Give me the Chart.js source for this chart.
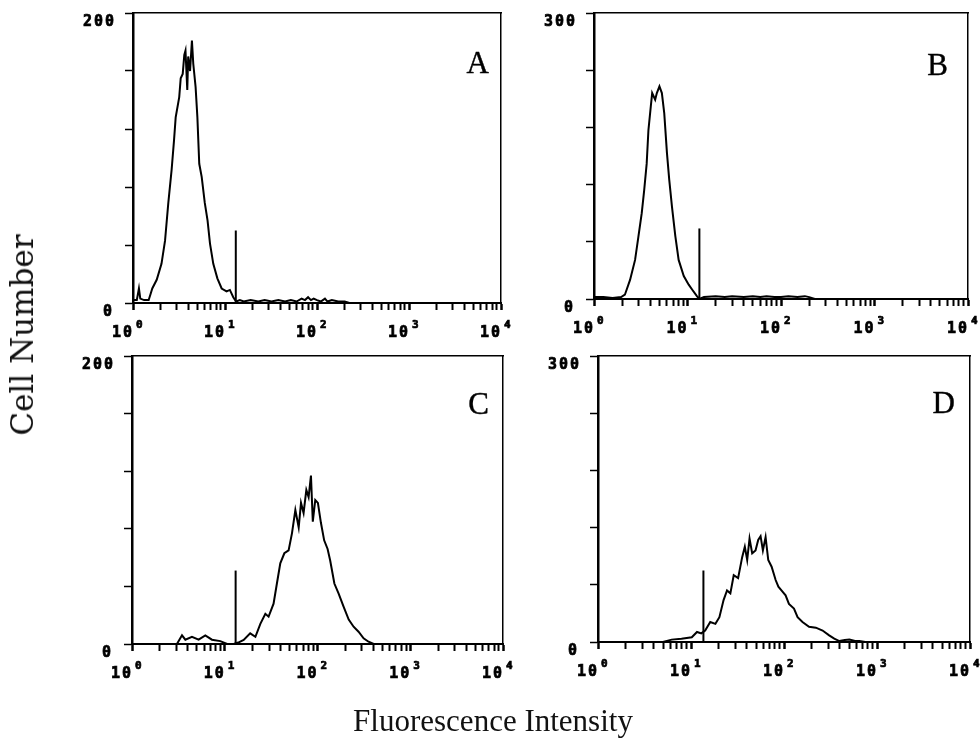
<!DOCTYPE html>
<html><head><meta charset="utf-8">
<script src="https://cdn.jsdelivr.net/npm/chart.js@4/dist/chart.umd.min.js"></script>
<style>
html,body{margin:0;padding:0;background:#fff;}
#wrap{position:relative;width:980px;height:755px;overflow:hidden;background:#fff;}
canvas{position:absolute;left:0;top:0;}
.ylab{position:absolute;left:22px;top:335px;transform:translate(-50%,-50%) rotate(-90deg);font-family:"DejaVu Serif",serif;font-size:31px;white-space:nowrap;color:#111;}
.xlab{position:absolute;left:493px;top:721px;transform:translate(-50%,-50%);font-family:"Liberation Serif",serif;font-size:31px;white-space:nowrap;color:#111;}
</style></head>
<body><div id="wrap">
<canvas id="cA" width="980" height="755"></canvas>
<canvas id="cB" width="980" height="755"></canvas>
<canvas id="cC" width="980" height="755"></canvas>
<canvas id="cD" width="980" height="755"></canvas>
<div class="ylab">Cell Number</div>
<div class="xlab">Fluorescence Intensity</div>
</div>
<script>
// ---- tick labels ----
const xTickValues = [1, 10, 100, 1000, 10000];
const xTickBase = '10';
const xTickExponents = ['0', '1', '2', '3', '4'];
const xMinorMantissas = [1, 2, 3, 4, 5, 6, 7, 8, 9];
const panelLetters = ['A', 'B', 'C', 'D'];
const yMaxValues = [200, 300, 200, 300];
const yMaxLabels = ['200', '300', '200', '300'];
const yZeroLabel = '0';

// ---- panel A ----
const aFluor = [1.00, 1.10, 1.16, 1.20, 1.32, 1.48, 1.55, 1.62, 1.81, 2.04, 2.23, 2.42, 2.63, 2.79, 2.91, 3.18, 3.30, 3.47, 3.61, 3.72, 3.89, 3.98, 4.17, 4.37, 4.52, 4.79, 5.01, 5.25, 5.58, 6.03, 6.46, 6.87, 7.46, 8.26, 9.20, 10.4, 11.3, 12.3, 13.2, 14.5, 16, 19, 23, 27, 32, 38, 45, 52, 60, 68, 74, 80, 86, 92, 100, 110, 122, 130, 145, 170, 200, 225];
const aCount = [2, 2, 10, 3, 2, 2, 6, 10, 16, 27, 43, 69, 92, 112, 128, 142, 155, 158, 171, 174, 147, 170, 160, 181, 165, 149, 128, 96, 87, 69, 57, 41, 27, 17, 10, 8, 9, 4, 1, 2, 1, 2, 1, 2, 1, 2, 1, 2, 1, 3, 2, 4, 2, 3, 2, 1, 3, 1, 2, 1, 1, 0];
const aMarkerFluor = [13.1, 13.1];
const aMarkerCount = [0, 50];

// ---- panel B ----
const bFluor = [1.00, 1.26, 1.58, 1.95, 2.14, 2.43, 2.75, 2.98, 3.24, 3.44, 3.66, 3.82, 4.05, 4.19, 4.51, 4.70, 5.01, 5.32, 5.64, 6.03, 6.38, 6.82, 7.41, 8.04, 9.12, 10.3, 11.2, 12.6, 13.4, 15, 20, 25, 30, 40, 50, 60, 70, 85, 100, 120, 150, 180, 200, 230];
const bCount = [2, 2, 1, 2, 4.5, 20, 41, 65, 90, 114, 142, 177, 202, 216, 209, 216, 223, 216, 195, 153, 125, 97, 66, 41, 24, 15, 10, 3, 0, 2, 3, 2, 3, 2, 3, 2, 3, 2, 2, 3, 2, 3, 2, 0];
const bMarkerFluor = [13.4, 13.4];
const bMarkerCount = [0, 74];

// ---- panel C ----
const cFluor = [1, 2.0, 3.05, 3.46, 3.76, 4.43, 5.23, 6.17, 7.28, 8.95, 10.6, 12.5, 14.0, 16.0, 18.8, 21.4, 24.2, 27.4, 29.7, 33.6, 36.5, 39.7, 43.9, 48.8, 53.1, 57.7, 62.7, 66.4, 70.8, 75.8, 80.2, 85, 89, 94.6, 101, 109, 118, 128.5, 137, 152, 169, 191, 217, 245, 277, 314, 355, 403, 500, 700, 1000];
const cCount = [0, 0, 0, 6, 3, 5, 3, 6, 3, 2, 0, 0, 1, 2.8, 7.4, 5, 14, 21, 19, 28, 42, 56, 63, 65, 77, 93, 81, 98, 91, 107, 102, 117, 85, 100, 98, 84, 72, 66, 58, 42, 35, 26, 17, 12, 8.5, 4, 1.6, 0, 0, 0, 0];
const cMarkerFluor = [13.1, 13.1];
const cMarkerCount = [0, 51];

// ---- panel D ----
const dFluor = [1, 3, 5, 6.2, 7.9, 10.2, 11.6, 12.9, 14.2, 16.1, 18.3, 20.2, 22.4, 24.4, 26.5, 28.8, 32.1, 35.5, 37.9, 40.2, 42.6, 45.5, 49.4, 52.8, 56, 59.3, 63.4, 67.7, 73.6, 81.3, 87, 94.4, 104, 113, 128, 140, 158, 186, 220, 260, 306, 347, 394, 450, 505, 580, 646, 750, 1000];
const dCount = [0, 0, 0, 2.5, 3.5, 5, 10.5, 9, 12, 21, 19, 26, 44, 54, 51, 70, 67, 89, 100, 86, 108.6, 93, 96, 107, 111, 96, 110, 86, 79, 65, 58, 54, 49, 40, 35, 26, 21, 16, 15, 12, 7, 3.5, 1, 2, 2.5, 1, 1, 0, 0];
const dMarkerFluor = [13.6, 13.6];
const dMarkerCount = [0, 75];

// ---- layout (pixels, not data) ----
const W = 980, H = 755, Y_AXIS_W = 8, X_AXIS_H = 7;
const panelBoxes = [
  {left: 133, top: 13, right: 501, bottom: 303, letterDx: -12, letterDy: 60},
  {left: 594, top: 13, right: 968, bottom: 299, letterDx: -20, letterDy: 62},
  {left: 132, top: 356, right: 503, bottom: 644, letterDx: -14, letterDy: 58},
  {left: 598, top: 356, right: 970, bottom: 642, letterDx: -15, letterDy: 57}
];

const xMinorTicks = [];
[1, 10, 100, 1000].forEach(d => xMinorMantissas.forEach(m => xMinorTicks.push(m * d)));
xMinorTicks.push(10000);

function heavyText(ctx, s, x, y) {
  ctx.fillText(s, x, y);
  ctx.strokeText(s, x, y);
}

const labelPlugin = {
  id: 'panelLabels',
  afterDraw(chart) {
    const o = chart.options.plugins.panelLabels;
    const {ctx, chartArea: a, scales: {x, y}} = chart;
    ctx.save();
    ctx.fillStyle = '#000';
    ctx.strokeStyle = '#000';
    ctx.lineWidth = 0.7;
    ctx.textBaseline = 'alphabetic';
    // x tick labels 10^n
    xTickValues.forEach((v, i) => {
      const px = x.getPixelForValue(v);
      ctx.letterSpacing = '2px';
      ctx.font = 'bold 15px "DejaVu Sans Mono"';
      ctx.textAlign = 'right';
      heavyText(ctx, xTickBase, px + 1, a.bottom + 34);
      ctx.letterSpacing = '0px';
      ctx.font = 'bold 11px "DejaVu Sans Mono"';
      ctx.textAlign = 'left';
      heavyText(ctx, xTickExponents[i], px + 3, a.bottom + 25);
    });
    // y labels
    ctx.letterSpacing = '2px';
    ctx.font = 'bold 15px "DejaVu Sans Mono"';
    ctx.textAlign = 'right';
    ctx.textBaseline = 'middle';
    heavyText(ctx, o.maxLabel, a.left - 17, y.getPixelForValue(o.maxValue) + 9);
    heavyText(ctx, yZeroLabel, a.left - 19, y.getPixelForValue(0) + 9);
    // panel letter
    ctx.letterSpacing = '0px';
    ctx.font = '31px "Liberation Serif"';
    ctx.textBaseline = 'alphabetic';
    ctx.textAlign = 'right';
    ctx.lineWidth = 0.4;
    heavyText(ctx, o.letter, a.right + o.box.letterDx, a.top + o.box.letterDy);
    ctx.restore();
  }
};

function makeChart(id, idx, fx, fy, mx, my) {
  const box = panelBoxes[idx];
  const yMax = yMaxValues[idx];
  return new Chart(document.getElementById(id), {
    type: 'line',
    data: {
      datasets: [
        {data: fx.map((v, i) => ({x: v, y: fy[i]})), borderColor: '#000', borderWidth: 2, pointRadius: 0, tension: 0, fill: false},
        {data: mx.map((v, i) => ({x: v, y: my[i]})), borderColor: '#000', borderWidth: 2, pointRadius: 0, tension: 0, fill: false}
      ]
    },
    options: {
      responsive: false, animation: false, devicePixelRatio: 1,
      layout: {padding: {left: box.left - Y_AXIS_W, top: box.top, right: W - box.right, bottom: H - box.bottom - X_AXIS_H}},
      plugins: {
        legend: {display: false}, tooltip: {enabled: false},
        panelLabels: {letter: panelLetters[idx], maxLabel: yMaxLabels[idx], maxValue: yMax, box: box}
      },
      scales: {
        x: {
          type: 'logarithmic', position: 'bottom', min: 1, max: 10000,
          afterBuildTicks: s => { s.ticks = xMinorTicks.map(v => ({value: v})); },
          afterFit: s => { s.height = X_AXIS_H; },
          ticks: {display: false},
          grid: {display: true, drawOnChartArea: false, drawTicks: true, tickLength: 7, tickColor: '#000',
                 tickWidth: c => (c.tick && Number.isInteger(Math.round(Math.log10(c.tick.value) * 1000) / 1000)) ? 2.5 : 2},
          border: {display: true, color: '#000', width: 2}
        },
        y: {
          type: 'linear', position: 'left', min: 0, max: yMax,
          ticks: {display: false, stepSize: yMax / 5},
          afterFit: s => { s.width = Y_AXIS_W; },
          grid: {display: true, drawOnChartArea: false, drawTicks: true, tickLength: 8, tickColor: '#000', tickWidth: 1.5},
          border: {display: true, color: '#000', width: 2.5}
        },
        xTop: {
          type: 'linear', position: 'top', display: true,
          ticks: {display: false}, grid: {display: false},
          afterFit: s => { s.height = 0; },
          border: {display: true, color: '#000', width: 1.5}
        },
        yRight: {
          type: 'linear', position: 'right', display: true,
          ticks: {display: false}, grid: {display: false},
          afterFit: s => { s.width = 0; },
          border: {display: true, color: '#000', width: 1.5}
        }
      }
    },
    plugins: [labelPlugin]
  });
}

makeChart('cA', 0, aFluor, aCount, aMarkerFluor, aMarkerCount);
makeChart('cB', 1, bFluor, bCount, bMarkerFluor, bMarkerCount);
makeChart('cC', 2, cFluor, cCount, cMarkerFluor, cMarkerCount);
makeChart('cD', 3, dFluor, dCount, dMarkerFluor, dMarkerCount);
</script>
</body></html>
